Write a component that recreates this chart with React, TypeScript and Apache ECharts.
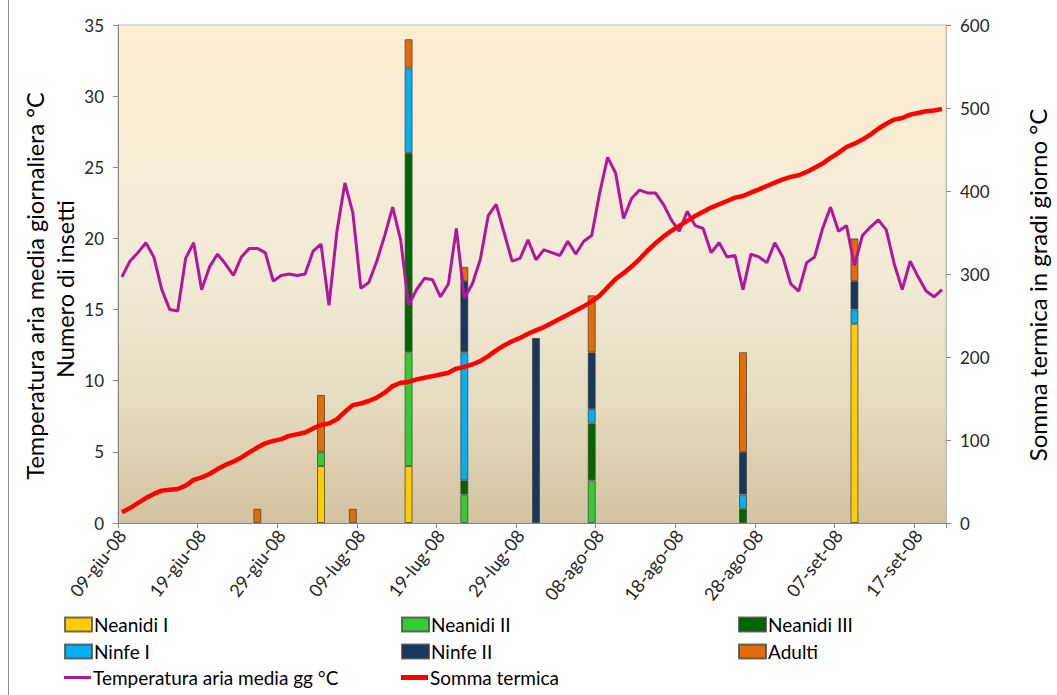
import React, { useEffect, useRef } from "react";
import * as echarts from "echarts";

// ---------- DATA ----------
const MONTHS_IT = ["gen", "feb", "mar", "apr", "mag", "giu", "lug", "ago", "set", "ott", "nov", "dic"];
const NUM_DAYS = 104; // 09-giu-08 .. 20-set-08

const dates: string[] = (() => {
  const out: string[] = [];
  for (let i = 0; i < NUM_DAYS; i++) {
    const d = new Date(Date.UTC(2008, 5, 9 + i));
    const dd = String(d.getUTCDate()).padStart(2, "0");
    out.push(`${dd}-${MONTHS_IT[d.getUTCMonth()]}-08`);
  }
  return out;
})();

const sampleDates = ["26-giu-08", "04-lug-08", "08-lug-08", "15-lug-08", "22-lug-08", "31-lug-08", "07-ago-08", "26-ago-08", "09-set-08"];
const neanidiI = [0, 4, 0, 4, 0, 0, 0, 0, 14];
const neanidiII = [0, 1, 0, 8, 2, 0, 3, 0, 0];
const neanidiIII = [0, 0, 0, 14, 1, 0, 4, 1, 0];
const ninfeI = [0, 0, 0, 6, 9, 0, 1, 1, 1];
const ninfeII = [0, 0, 0, 0, 5, 13, 4, 3, 2];
const adulti = [1, 4, 1, 2, 1, 0, 4, 7, 3];

const temperatura = [
  17.3, 18.4, 19.0, 19.7, 18.7, 16.4, 15.0, 14.9, 18.6, 19.7,
  16.4, 18.0, 18.9, 18.2, 17.4, 18.7, 19.3, 19.3, 19.0, 17.0,
  17.4, 17.5, 17.4, 17.5, 19.1, 19.6, 15.3, 20.5, 23.9, 21.8,
  16.5, 16.9, 18.4, 20.2, 22.2, 19.9, 15.3, 16.4, 17.2, 17.1,
  15.9, 16.8, 20.7, 15.8, 16.8, 18.5, 21.6, 22.4, 20.4, 18.4,
  18.6, 19.9, 18.5, 19.2, 19.0, 18.8, 19.8, 18.9, 19.8, 20.2,
  23.2, 25.7, 24.6, 21.4, 22.8, 23.4, 23.2, 23.2, 22.4, 21.3,
  20.5, 21.9, 20.9, 20.7, 19.0, 19.7, 18.7, 18.8, 16.4, 18.9,
  18.7, 18.3, 19.7, 18.7, 16.8, 16.3, 18.3, 18.7, 20.7, 22.2,
  20.5, 20.9, 18.1, 20.2, 20.8, 21.3, 20.6, 18.2, 16.4, 18.4,
  17.3, 16.3, 15.9, 16.4,
];

const sommaTermica = [
  13, 18, 24, 30, 35, 39, 40, 41, 45, 52,
  55, 59, 65, 70, 74, 79, 85, 91, 96, 99,
  101, 105, 107, 109, 114, 118, 120, 125, 134, 142,
  144, 147, 151, 157, 165, 169, 170, 173, 175, 177,
  179, 181, 186, 188, 191, 195, 201, 208, 214, 219,
  223, 228, 232, 236, 241, 246, 251, 256, 261, 267,
  274, 284, 294, 301, 309, 318, 328, 337, 345, 352,
  358, 364, 370, 375, 380, 384, 388, 392, 394, 398,
  402, 406, 410, 414, 417, 419, 423, 428, 433, 440,
  446, 453, 457, 462, 468, 475, 481, 486, 488, 492,
  494, 496, 497, 499,
];

const leftTicks = [0, 35, 5];
const rightTicks = [0, 600, 100];

// ---------- STYLE ----------
const FONT = "Lato";
const stages = [
  { name: "Neanidi I", values: neanidiI, color: "#FFCC00" },
  { name: "Neanidi II", values: neanidiII, color: "#33CC33" },
  { name: "Neanidi III", values: neanidiIII, color: "#006600" },
  { name: "Ninfe I", values: ninfeI, color: "#00B0F0" },
  { name: "Ninfe II", values: ninfeII, color: "#17375E" },
  { name: "Adulti", values: adulti, color: "#E36C09" },
];
const TEMP_NAME = "Temperatura aria media gg °C";
const SUM_NAME = "Somma termica";

function expand(values: number[]) {
  return dates.map((d) => {
    const k = sampleDates.indexOf(d);
    return k >= 0 && values[k] > 0 ? values[k] : null;
  });
}

export default function App() {
  const ref = useRef<HTMLDivElement>(null);
  useEffect(() => {
    document.body.style.margin = "0";
    const chart = echarts.init(ref.current!, null, { renderer: "svg" });
    const legendPos = [
      [64, 615], [401, 615], [738, 615],
      [64, 642], [401, 642], [738, 642],
      [64, 668], [401, 668],
    ];
    const legendNames = [...stages.map((s) => s.name), TEMP_NAME, SUM_NAME];
    const legends = legendNames.map((n, i) => {
      const base: any = {
        data: [n],
        left: legendPos[i][0],
        top: legendPos[i][1],
        orient: "horizontal",
        icon: "rect",
        itemWidth: 27,
        itemHeight: 14,
        itemGap: 2,
        padding: 0,
        selectedMode: false,
        textStyle: { fontFamily: FONT, fontSize: 19, color: "#000", padding: [0, 0, 0, -3] },
      };
      if (i >= 6) base.itemHeight = i === 6 ? 3 : 5;
      return base;
    });

    const option: any = {
      animation: false,
      backgroundColor: "#fff",
      textStyle: { fontFamily: FONT },
      grid: {
        left: 118,
        right: 111,
        top: 25,
        bottom: 172,
        show: true,
        borderColor: "#BFBFBF",
        borderWidth: 1,
        outerBoundsMode: "none",
        backgroundColor: new echarts.graphic.LinearGradient(0, 0, 0, 1, [
          { offset: 0, color: "#FDEED2" },
          { offset: 0.5, color: "#F2EAD6" },
          { offset: 0.75, color: "#E6DCC0" },
          { offset: 1, color: "#D3C39F" },
        ]),
      },
      legend: legends,
      xAxis: {
        type: "category",
        data: dates,
        boundaryGap: true,
        axisLine: { show: true, lineStyle: { color: "#868686", width: 1 } },
        axisTick: { show: true, interval: 9, length: 5, lineStyle: { color: "#868686" } },
        axisLabel: {
          interval: 9,
          rotate: 52,
          fontFamily: FONT,
          fontSize: 18,
          color: "#262626",
          margin: 9,
        },
        splitLine: { show: false },
      },
      yAxis: [
        {
          type: "value",
          min: leftTicks[0],
          max: leftTicks[1],
          interval: leftTicks[2],
          axisLine: { show: true, lineStyle: { color: "#868686" } },
          axisTick: { show: true, length: 5, lineStyle: { color: "#868686" } },
          axisLabel: { fontFamily: FONT, fontSize: 17, color: "#262626", margin: 14 },
          splitLine: { show: false },
        },
        {
          type: "value",
          min: rightTicks[0],
          max: rightTicks[1],
          interval: rightTicks[2],
          position: "right",
          axisLine: { show: true, lineStyle: { color: "#BFBFBF" } },
          axisTick: { show: true, length: 5, lineStyle: { color: "#868686" } },
          axisLabel: { fontFamily: FONT, fontSize: 17, color: "#262626", margin: 14 },
          splitLine: { show: false },
        },
      ],
      graphic: [
        {
          type: "line",
          shape: { x1: 8.5, y1: 0, x2: 8.5, y2: 695 },
          style: { stroke: "#8C8C8C", lineWidth: 1 },
        },
        {
          type: "text",
          x: 35,
          y: 286,
          rotation: Math.PI / 2,
          style: {
            text: "Temperatura aria media giornaliera °C",
            fontFamily: FONT,
            fontSize: 23.5,
            fill: "#000",
            align: "center",
            verticalAlign: "middle",
          },
        },
        {
          type: "text",
          x: 65,
          y: 289,
          rotation: Math.PI / 2,
          style: {
            text: "Numero di insetti",
            fontFamily: FONT,
            fontSize: 23.5,
            fill: "#000",
            align: "center",
            verticalAlign: "middle",
          },
        },
        {
          type: "text",
          x: 1037,
          y: 285,
          rotation: Math.PI / 2,
          style: {
            text: "Somma termica in gradi giorno °C",
            fontFamily: FONT,
            fontSize: 24,
            fill: "#000",
            align: "center",
            verticalAlign: "middle",
          },
        },
      ],
      series: [
        ...stages.map((s) => ({
          name: s.name,
          type: "bar",
          stack: "insetti",
          yAxisIndex: 0,
          barWidth: "100%",
          data: expand(s.values),
          itemStyle: { color: s.color, borderColor: "rgba(64,64,64,0.75)", borderWidth: 1 },
        })),
        {
          name: TEMP_NAME,
          type: "line",
          yAxisIndex: 0,
          data: temperatura,
          symbol: "none",
          lineStyle: { color: "#B0179E", width: 3 },
          itemStyle: { color: "#B0179E" },
          z: 5,
        },
        {
          name: SUM_NAME,
          type: "line",
          yAxisIndex: 1,
          data: sommaTermica,
          symbol: "none",
          lineStyle: { color: "#FF0000", width: 4.5 },
          itemStyle: { color: "#FF0000" },
          z: 6,
        },
      ],
    };
    chart.setOption(option);
    return () => chart.dispose();
  }, []);
  return <div ref={ref} style={{ width: 1057, height: 695 }} />;
}
